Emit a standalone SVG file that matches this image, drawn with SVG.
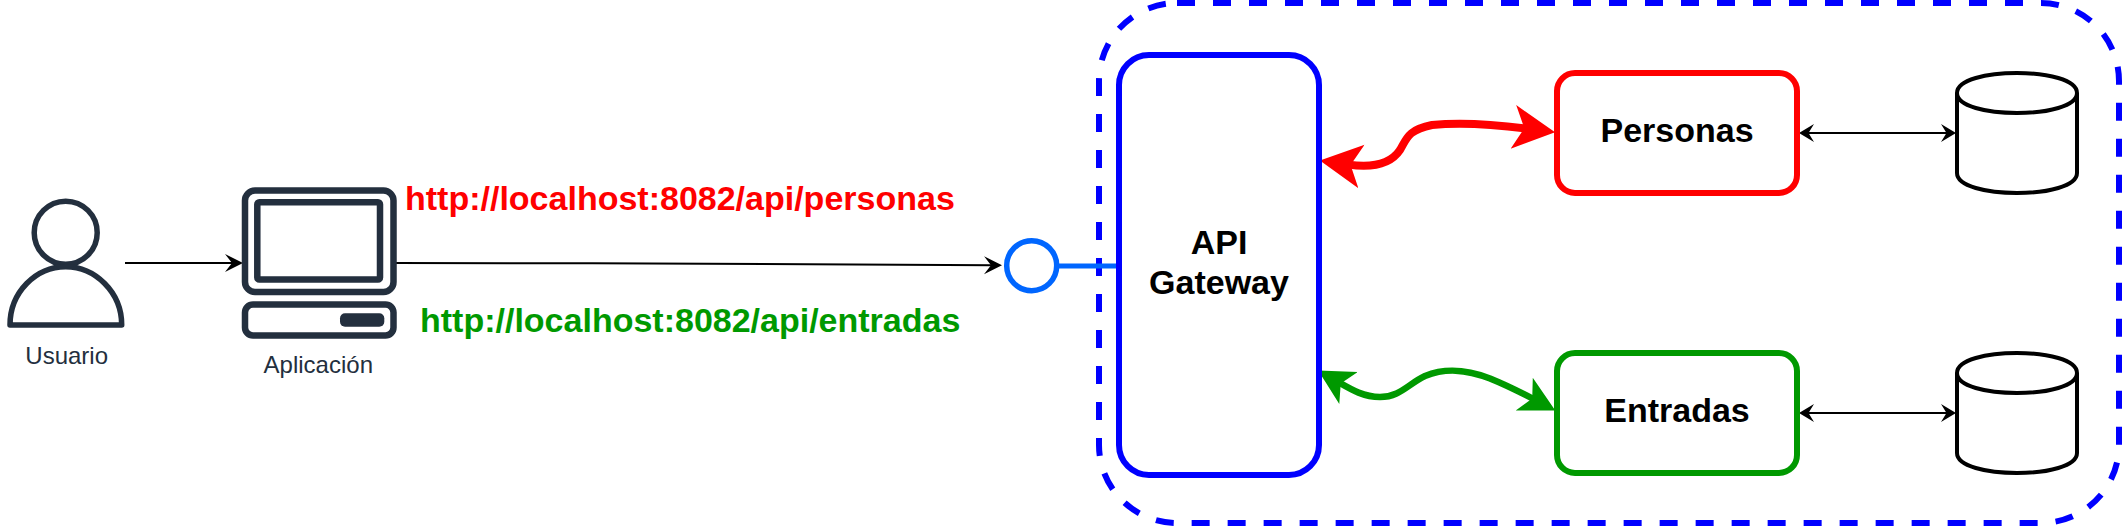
<svg xmlns="http://www.w3.org/2000/svg" width="2122" height="526" viewBox="0 0 2122 526">
<defs>
<style>
text{font-family:"Liberation Sans",Arial,sans-serif;text-anchor:middle}
.t{font-weight:bold;font-size:34px;fill:#000}
.url{font-weight:bold;font-size:34px;text-anchor:start}
.cap{font-size:24px;fill:#232F3E}
.ic{fill:none;stroke:#232F3E;stroke-linejoin:round}
.box{fill:none;stroke-width:6}
.cyl{fill:none;stroke:#000;stroke-width:4}
.l{fill:none;stroke:#000;stroke-width:2}
.c{fill:none}
</style>
<marker id="a18" markerUnits="userSpaceOnUse" markerWidth="20" markerHeight="20" viewBox="0 -10 20 20" refX="8" refY="0" orient="auto-start-reverse"><path d="M0 -9 L18 0 L0 9 L7 0 Z" fill="#000"/></marker>
<marker id="a15" markerUnits="userSpaceOnUse" markerWidth="20" markerHeight="20" viewBox="0 -10 20 20" refX="6" refY="0" orient="auto-start-reverse"><path d="M0 -9 L15 0 L0 9 L5.5 0 Z" fill="#000"/></marker>
<marker id="red" markerUnits="userSpaceOnUse" markerWidth="50" markerHeight="50" viewBox="0 -25 50 50" refX="13" refY="0" orient="auto-start-reverse"><path d="M0 -22 L42 0 L0 22 L11 0 Z" fill="#ff0000"/></marker>
<marker id="grn" markerUnits="userSpaceOnUse" markerWidth="50" markerHeight="50" viewBox="0 -25 50 50" refX="11" refY="0" orient="auto-start-reverse"><path d="M0 -18.5 L35 0 L0 18.5 L9 0 Z" fill="#009900"/></marker>
</defs>
<rect width="2122" height="526" fill="#fff"/>
<g id="boundary"><path d="M1177 3H2041A78 78 0 0 1 2119 81V445A78 78 0 0 1 2041 523H1177A78 78 0 0 1 1099 445V81A78 78 0 0 1 1177 3Z" fill="none" stroke="#0000ff" stroke-width="6" stroke-dasharray="18 18"/></g>
<g id="connectors">
<path class="l" d="M125 263H233" marker-end="url(#a18)"/>
<path class="l" d="M396 263C600 263 720 263.5 992 265.3" marker-end="url(#a18)"/>
<path d="M1059 266H1119" fill="none" stroke="#0066ff" stroke-width="5"/>
<path class="l" d="M1808 133H1947" marker-start="url(#a15)" marker-end="url(#a15)"/>
<path class="l" d="M1808 413H1947" marker-start="url(#a15)" marker-end="url(#a15)"/>
<path class="c" stroke="#ff0000" stroke-width="8" d="M1348.6 164.6C1362 166.5 1388 168 1400 150C1407 138 1408 130 1432 125C1460 122 1495 124.5 1526.3 128.5" marker-start="url(#red)" marker-end="url(#red)"/>
<path class="c" stroke="#009900" stroke-width="6.5" d="M1339 382.5C1352 390 1364 397 1380 397C1400 397 1408 384 1425 376C1445 368 1465 369 1490 378.5C1506 385 1520 392 1534 399.3" marker-start="url(#grn)" marker-end="url(#grn)"/>
</g>
<g id="usuario">
<circle class="ic" cx="65.7" cy="232.7" r="31.5" stroke-width="5.5"/>
<path class="ic" stroke-width="5.5" d="M10 325C10 292 36 266.7 65.7 266.7C95 266.7 121.7 292 121.7 325Z"/>
<text class="cap" x="66.7" y="364">Usuario</text>
</g>
<g id="aplicacion">
<rect class="ic" x="245" y="190.5" width="148.5" height="101.5" rx="10" stroke-width="6.5"/>
<rect class="ic" x="257.3" y="202.3" width="122.7" height="77.2" rx="2" stroke-width="6.5"/>
<rect class="ic" x="245" y="304.5" width="148.5" height="31" rx="8" stroke-width="6.5"/>
<rect x="340" y="313.3" width="44.3" height="13.4" rx="5" fill="#232F3E"/>
<text class="cap" x="318.3" y="373">Aplicación</text>
</g>
<g id="interfaz"><circle cx="1031.7" cy="265.7" r="25" fill="none" stroke="#0066ff" stroke-width="5.5"/></g>
<g id="url-personas"><text class="url" x="405" y="210" fill="#ff0000">http://localhost:8082/api/personas</text></g>
<g id="url-entradas"><text class="url" x="420" y="331.5" fill="#009900">http://localhost:8082/api/entradas</text></g>
<g id="gateway"><rect class="box" x="1119" y="55" width="200" height="420" rx="30" stroke="#0000ff"/><text class="t" x="1219" y="254">API</text><text class="t" x="1219" y="294">Gateway</text></g>
<g id="personas"><rect class="box" x="1557" y="73" width="240" height="120" rx="18" stroke="#ff0000"/><text class="t" x="1677" y="141.5">Personas</text></g>
<g id="entradas"><rect class="box" x="1557" y="353" width="240" height="120" rx="18" stroke="#009900"/><text class="t" x="1677" y="421.5">Entradas</text></g>
<g id="bd-personas"><path class="cyl" d="M1957 93C1957 66.3 2077 66.3 2077 93V173C2077 199.7 1957 199.7 1957 173ZM1957 93C1957 119.7 2077 119.7 2077 93"/></g>
<g id="bd-entradas"><path class="cyl" d="M1957 373C1957 346.3 2077 346.3 2077 373V453C2077 479.7 1957 479.7 1957 453ZM1957 373C1957 399.7 2077 399.7 2077 373"/></g>
</svg>
